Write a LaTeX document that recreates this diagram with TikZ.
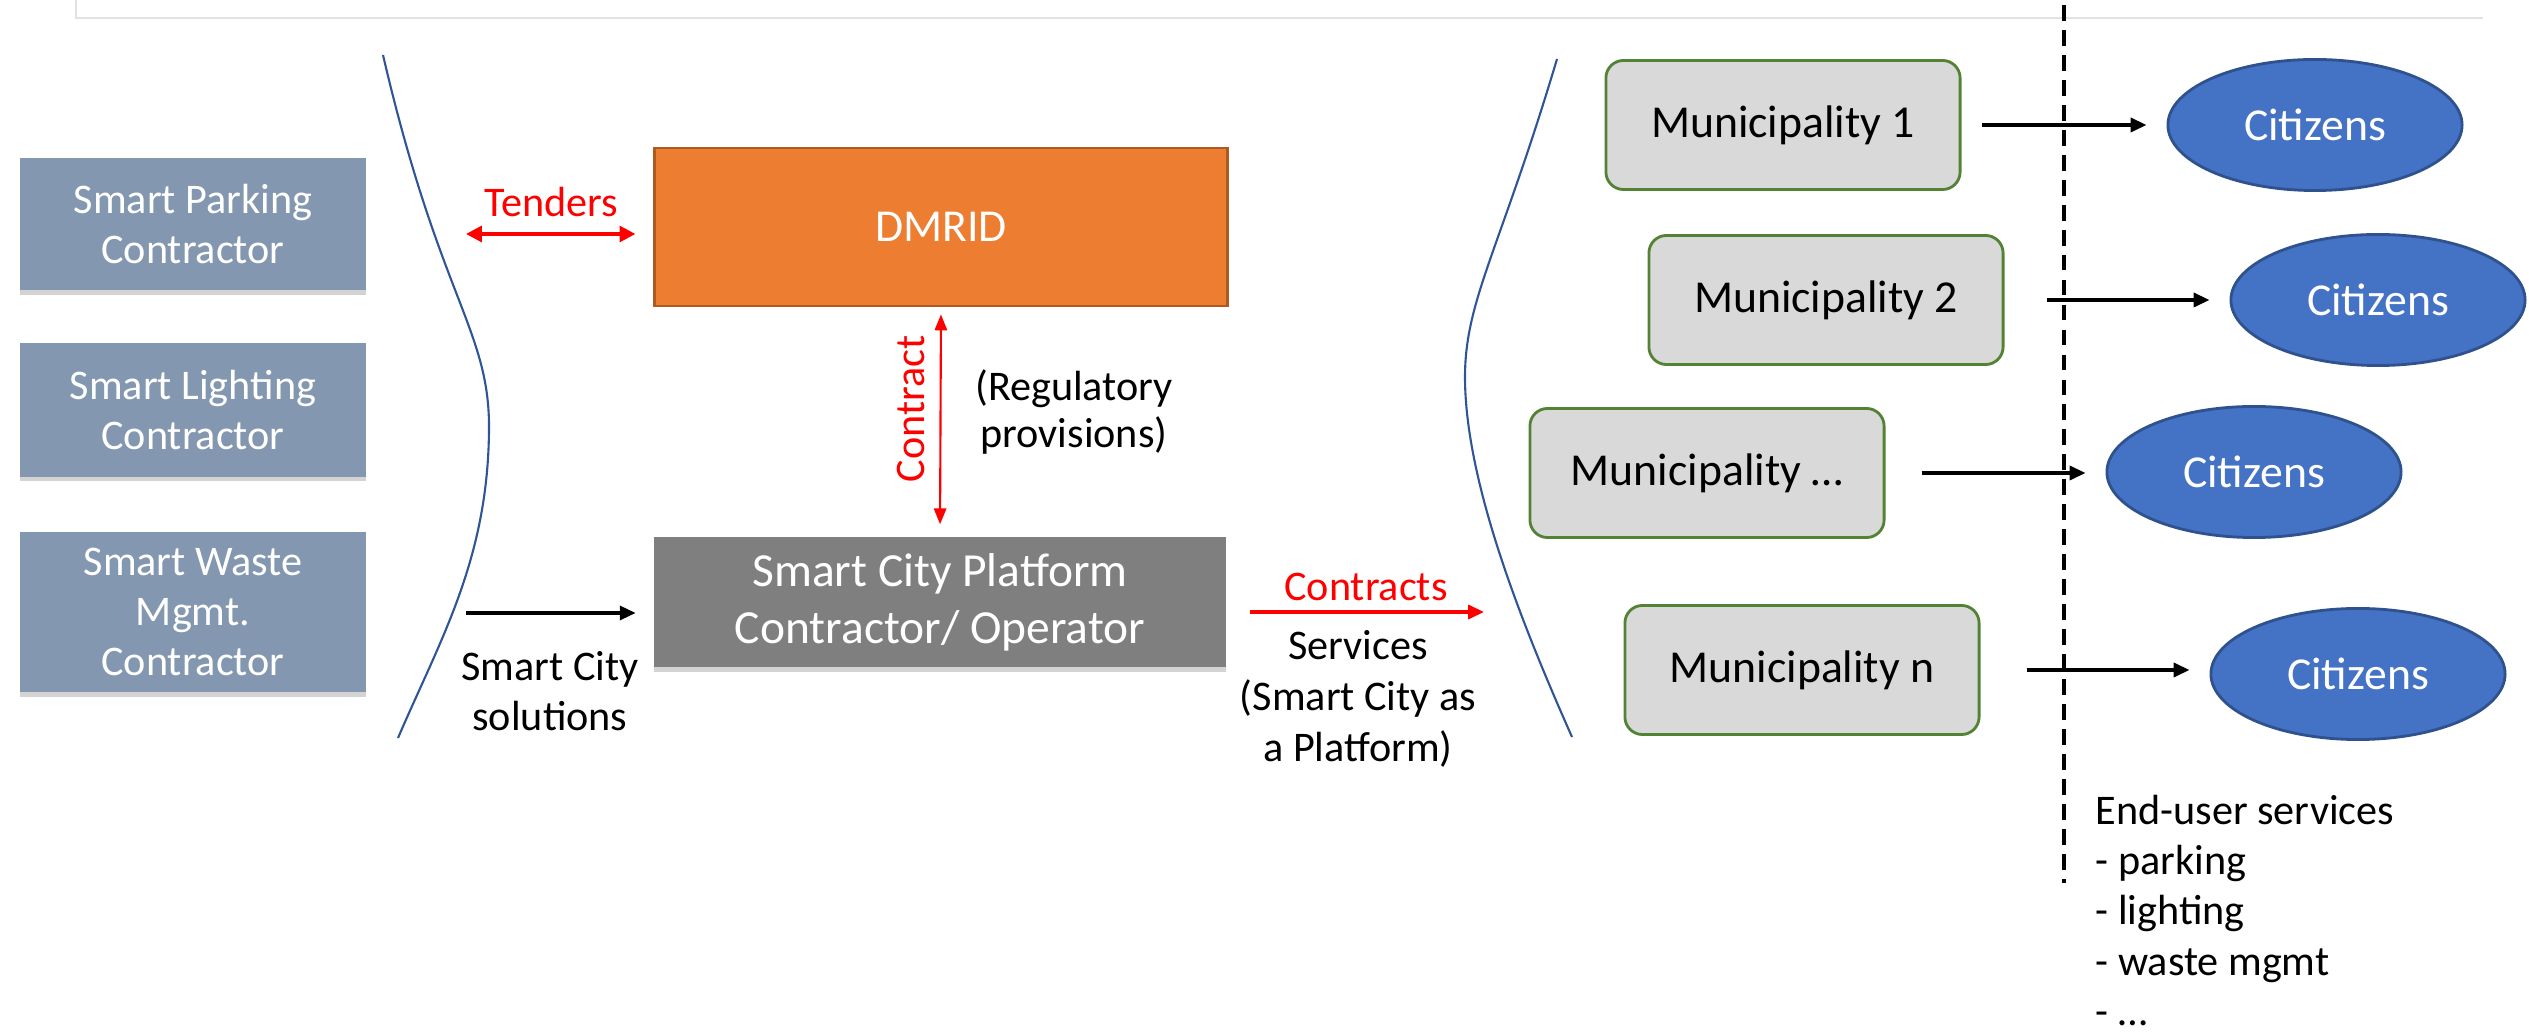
\documentclass[tikz,border=0pt]{standalone}
\usepackage{fontspec}
\setmainfont{Carlito}
\usetikzlibrary{arrows.meta,shadows,shapes.geometric}

\definecolor{kontraktor}{HTML}{8497B0}
\definecolor{dmridorange}{HTML}{ED7D31}
\definecolor{dmridrand}{HTML}{AE5A21}
\definecolor{plattform}{HTML}{7F7F7F}
\definecolor{gemeinde}{HTML}{D9D9D9}
\definecolor{gemeinderand}{HTML}{548235}
\definecolor{buerger}{HTML}{4472C4}
\definecolor{buergerrand}{HTML}{2F528F}
\definecolor{klammer}{HTML}{2F5597}
\definecolor{rahmen}{HTML}{E2E2E2}

\tikzset{
	schatten/.style={drop shadow={shadow xshift=0pt, shadow yshift=-1.3pt, opacity=0.35}},
	contractor/.style={schatten, fill=kontraktor, text=white, align=center,
		minimum width=3.45cm, font=\fontsize{12}{14.2}\selectfont},
	dmridbox/.style={fill=dmridorange, draw=dmridrand, line width=0.8pt, text=white,
		minimum width=5.72cm, minimum height=1.58cm, font=\fontsize{13}{15.5}\selectfont},
	platformbox/.style={schatten, fill=plattform, text=white, align=center,
		minimum width=5.71cm, minimum height=1.30cm, font=\fontsize{13.5}{16.2}\selectfont},
	munibox/.style={fill=gemeinde, draw=gemeinderand, line width=0.8pt, rounded corners=5pt,
		minimum width=3.54cm, minimum height=1.29cm, font=\fontsize{13}{15.5}\selectfont},
	citizen/.style={ellipse, fill=buerger, draw=buergerrand, line width=0.8pt, text=white,
		minimum width=2.94cm, minimum height=1.31cm, font=\fontsize{13}{15.5}\selectfont},
	label/.style={align=center, font=\fontsize{12}{14.4}\selectfont},
	redlabel/.style={label, text=red},
	blackarrow/.style={line width=0.9pt, -{Triangle[length=4.5pt,width=4pt]}},
	redarrow/.style={red, line width=0.9pt, -{Triangle[length=4.5pt,width=4pt]}},
	tenderarrow/.style={red, line width=1pt, {Triangle[length=4.5pt,width=4.5pt]}-{Triangle[length=4.5pt,width=4.5pt]}},
	contractarrow/.style={red, line width=0.6pt, {Triangle[length=4.5pt,width=3.5pt]}-{Triangle[length=4.5pt,width=3.5pt]}}
}

\begin{document}
\begin{tikzpicture}[x=0.01cm, y=-0.01cm]
	\useasboundingbox (0,0) rectangle (2529,1034);

	% Rahmen oben
	\draw[rahmen, line width=0.6pt] (76,0) -- (76,18) -- (2483,18);
	% Trennlinie Endnutzer
	\draw[line width=0.9pt, dash pattern=on 4.5pt off 2.6pt] (2064,5) -- (2064,883);

	% Klammern
	\draw[klammer, line width=0.6pt] (383,55) .. controls (440,300) and (490,330) ..
		(489,430) .. controls (488,560) and (440,640) .. (398,738);
	\draw[klammer, line width=0.6pt] (1557,59) .. controls (1500,250) and (1465,300) ..
		(1465,377) .. controls (1465,480) and (1520,620) .. (1572,737);

	% Auftragnehmer links
	\node[contractor, minimum height=1.32cm] (parking) at (193,224) {Smart Parking\\Contractor};
	\node[contractor, minimum height=1.33cm] (lighting) at (193,410) {Smart Lighting\\Contractor};
	\node[contractor, minimum height=1.60cm] (waste) at (193,612) {Smart Waste\\Mgmt.\\Contractor};

	% Mitte
	\node[dmridbox] (dmrid) at (941,227) {DMRID};
	\node[platformbox] (platform) at (940,602) {Smart City Platform\\Contractor/ Operator};

	% Gemeinden
	\node[munibox] (muni1) at (1783,125) {Municipality 1};
	\node[munibox] (muni2) at (1826,300) {Municipality 2};
	\node[munibox] (muni3) at (1707,473) {Municipality …};
	\node[munibox] (muni4) at (1802,670) {Municipality n};

	% Buerger
	\node[citizen] (cit1) at (2315,125) {Citizens};
	\node[citizen] (cit2) at (2378,300) {Citizens};
	\node[citizen] (cit3) at (2254,472) {Citizens};
	\node[citizen] (cit4) at (2358,674) {Citizens};

	% Beschriftungen
	\node[redlabel] (tenders) at (551,202) {Tenders};
	\node[redlabel, rotate=90] (vertrag) at (911,409) {Contract};
	\node[label, font=\fontsize{12}{13.4}\selectfont] (regulatory) at (1074,412) {(Regulatory\\provisions)};
	\node[label] (solutions) at (550,691) {Smart City\\solutions};
	\node[redlabel] (contracts) at (1366,587) {Contracts};
	\node[label, font=\fontsize{12}{14.5}\selectfont] (services) at (1358,699) {Services\\(Smart City as\\a Platform)};
	\node[label, align=left, anchor=north west, inner sep=0pt, font=\fontsize{12}{14.35}\selectfont]
		(enduser) at (2095,794) {End-user services\\- parking\\- lighting\\- waste mgmt\\- …};

	% Pfeile
	\coordinate (tenderL) at (466,234);
	\draw[tenderarrow, shorten >=0.18cm] (tenderL) -- (tenderL -| dmrid.west);
	\draw[contractarrow, shorten <=0.07cm, shorten >=0.12cm] (dmrid.south) -- (platform.north);
	\coordinate (solL) at (466,613);
	\draw[blackarrow, shorten >=0.18cm] (solL) -- (solL -| platform.west);
	\coordinate (contractsR) at (1484,612);
	\draw[redarrow, shorten <=0.24cm] (contractsR -| platform.east) -- (contractsR);
	\foreach \i/\s in {1/2.0,2/4.2,3/3.6,4/4.6}
		\draw[blackarrow, shorten <=\s mm, shorten >=2mm] (muni\i.east) -- (muni\i.east -| cit\i.west);
\end{tikzpicture}
\end{document}
